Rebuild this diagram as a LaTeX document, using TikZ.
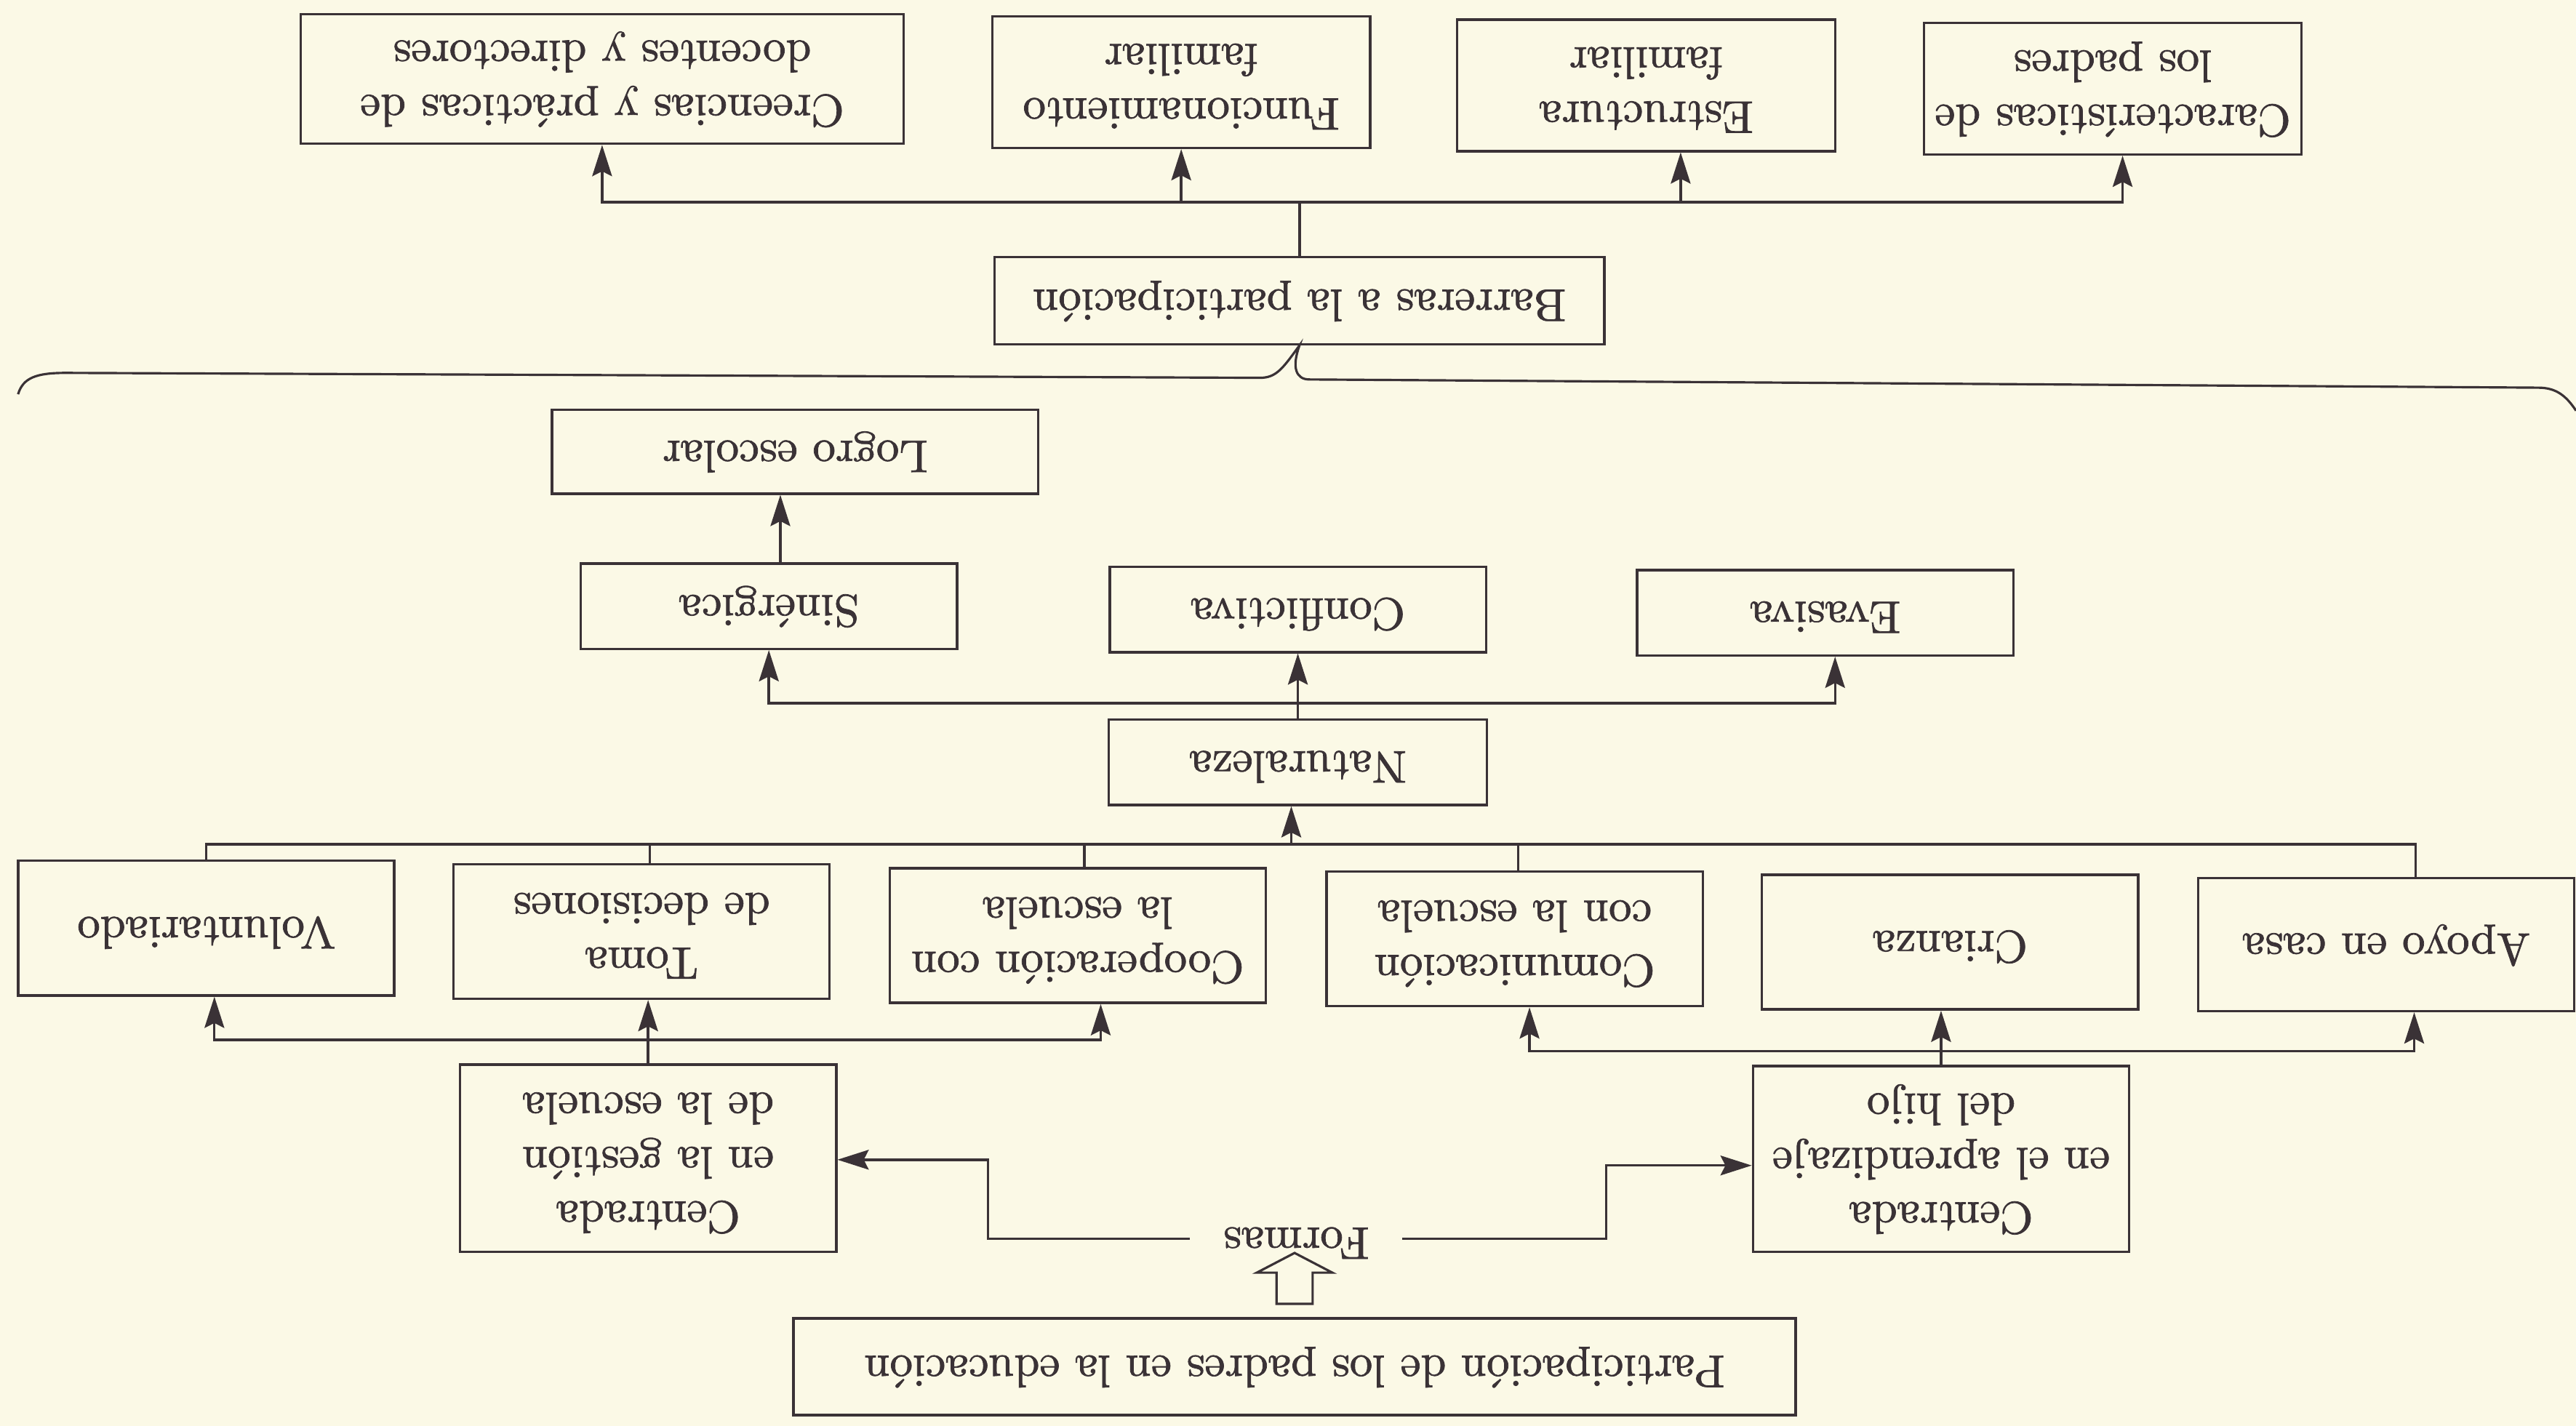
\documentclass[tikz,border=0pt]{standalone}
\usepackage{fontspec}
\newfontfamily\inkfont{Latin Modern Roman}[FakeBold=1.2]
\usetikzlibrary{arrows.meta,calc}
\definecolor{paper}{HTML}{FBF9E6}
\definecolor{ink}{HTML}{3A3236}
\newcommand{\ud}[1]{\rotatebox[origin=c]{180}{\scalebox{2.78}{\inkfont\fontsize{10}{11.9}\selectfont\begin{tabular}{@{}c@{}}#1\end{tabular}}}}
\begin{document}
\begin{tikzpicture}[x=1pt,y=-1pt,
  box/.style={draw=ink, line width=1.5pt, inner sep=0pt, text=ink},
  conn/.style={draw=ink, line width=1.5pt},
  arr/.style={conn, -{Stealth[length=19pt,width=12pt,inset=3pt]}},
]
\fill[paper] (0,0) rectangle (1568,868);
\useasboundingbox (0,0) rectangle (1568,868);

% top row
\node[box, minimum width=367pt, minimum height=79pt] (cre) at (366.5,48) {\ud{Creencias y prácticas de\\docentes y directores}};
\node[box, minimum width=230pt, minimum height=80pt] (fun) at (719,50) {\ud{Funcionamiento\\familiar}};
\node[box, minimum width=230pt, minimum height=80pt] (est) at (1002,52) {\ud{Estructura\\familiar}};
\node[box, minimum width=230pt, minimum height=80pt] (car) at (1286,54) {\ud{Características de\\los padres}};

\node[box, minimum width=371pt, minimum height=53pt] (bar) at (791,183) {\ud{Barreras a la participación}};

% brace
\draw[conn, line width=1.4pt] (11,240) .. controls (14,230) and (22,227) .. (40,227)
  -- (767,230) .. controls (777,230) and (781,224) .. (bar.south)
  .. controls (786,224) and (789,231) .. (797,231)
  -- (1545,236) .. controls (1556,236) and (1562,241) .. (1568,250);

\node[box, minimum width=296pt, minimum height=51pt] (log) at (484,275) {\ud{Logro escolar}};

\node[box, minimum width=229pt, minimum height=52pt] (sin) at (468,369) {\ud{Sinérgica}};
\node[box, minimum width=229pt, minimum height=52pt] (cof) at (790,371) {\ud{Conflictiva}};
\node[box, minimum width=229pt, minimum height=52pt] (eva) at (1111,373) {\ud{Evasiva}};

\node[box, minimum width=230pt, minimum height=52pt] (nat) at (790,464) {\ud{Naturaleza}};

% row of six
\node[box, minimum width=229pt, minimum height=82pt] (vol) at (125.5,565) {\ud{Voluntariado}};
\node[box, minimum width=229pt, minimum height=82pt] (tom) at (390.5,567) {\ud{Toma\\de decisiones}};
\node[box, minimum width=229pt, minimum height=82pt] (coo) at (656,569.5) {\ud{Cooperación con\\la escuela}};
\node[box, minimum width=229pt, minimum height=82pt] (com) at (922,571.5) {\ud{Comunicación\\con la escuela}};
\node[box, minimum width=229pt, minimum height=82pt] (cri) at (1187,573.5) {\ud{Crianza}};
\node[box, minimum width=229pt, minimum height=81pt] (apo) at (1452.5,575) {\ud{Apoyo en casa}};

\node[box, minimum width=229pt, minimum height=114pt] (ges) at (394.5,705) {\ud{Centrada\\en la gestión\\de la escuela}};
\node[box, minimum width=229pt, minimum height=113pt] (apr) at (1181.5,705.5) {\ud{Centrada\\en el aprendizaje\\del hijo}};

\node[inner sep=0pt, minimum width=129pt, minimum height=30pt, text=ink] (for) at (789,754) {\ud{Formas}};

\node[box, minimum width=610pt, minimum height=59pt] (par) at (788,832) {\ud{Participación de los padres en la educación}};

% connectors: barreras
\draw[conn] (bar.north) -- (bar.north |- 0,123);
\draw[arr] (bar.north |- 0,123) -| (cre.south);
\draw[arr] (bar.north |- 0,123) -| (fun.south);
\draw[arr] (bar.north |- 0,123) -| ([xshift=21pt]est.south);
\draw[arr] (bar.north |- 0,123) -| ([xshift=6pt]car.south);

% naturaleza
\draw[arr] (nat.north) -- (cof.south);
\draw[arr] (nat.north |- 0,428) -| (sin.south);
\draw[arr] (nat.north |- 0,428) -| ([xshift=6pt]eva.south);
\draw[arr] ([xshift=7pt]sin.north) -- ([xshift=7pt]sin.north |- log.south);

% bus to naturaleza
\draw[conn] (vol.north) |- ([xshift=18pt]apo.north |- 0,514) -- ([xshift=18pt]apo.north);
\draw[conn] ([xshift=5pt]tom.north) -- ([xshift=5pt]tom.north |- 0,514);
\draw[conn] ([xshift=4pt]coo.north) -- ([xshift=4pt]coo.north |- 0,514);
\draw[conn] ([xshift=2pt]com.north) -- ([xshift=2pt]com.north |- 0,514);
\draw[arr] ([xshift=-4pt]nat.south |- 0,514) -- ([xshift=-4pt]nat.south);

% gestion
\draw[arr] (ges.north) -- (ges.north |- tom.south);
\draw[arr] (ges.north |- 0,633) -| ([xshift=5pt]vol.south);
\draw[arr] (ges.north |- 0,633) -| ([xshift=14pt]coo.south);

% aprendizaje
\draw[arr] (apr.north) -- (apr.north |- cri.south);
\draw[arr] (apr.north |- 0,640) -| ([xshift=9pt]com.south);
\draw[arr] (apr.north |- 0,640) -| ([xshift=17pt]apo.south);

% formas
\draw[arr] (for.west) -- ++(-123,0) |- ([yshift=-1pt]ges.east);
\draw[arr] (for.east) -- ++(124,0) |- ([yshift=-4pt]apr.west);

% hollow arrow
\draw[ink, line width=1.4pt, line join=miter]
  ($(par.north)+(-11,-8)$) -- ($(par.north)+(-11,-27)$) -- ($(par.north)+(-23,-27)$)
  -- ($(par.north)+(0,-39)$) -- ($(par.north)+(23,-27)$) -- ($(par.north)+(11,-27)$)
  -- ($(par.north)+(11,-8)$) -- cycle;
\end{tikzpicture}
\end{document}
